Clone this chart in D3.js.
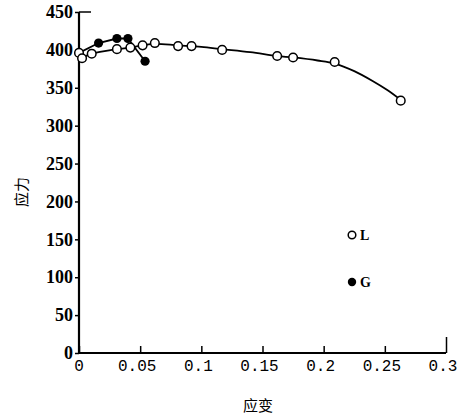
<!DOCTYPE html>
<html>
<head>
<meta charset="utf-8">
<script src="https://cdn.jsdelivr.net/npm/d3@7"></script>
<style>
  body { margin: 0; background: #fff; }
  svg { display: block; }
</style>
</head>
<body>
<svg id="chart"></svg>
<script>
// strain values and stress values
var strainL = [0.0, 0.0025, 0.0104, 0.031, 0.042, 0.052, 0.062, 0.081, 0.092, 0.117, 0.162, 0.175, 0.209, 0.263];
var stressL = [396, 389, 395, 401, 403, 406, 409, 405, 405, 400, 392, 390, 384, 333];
var strainG = [0.0, 0.016, 0.031, 0.040, 0.054];
var stressG = [396, 409, 415, 415, 385];
// drawn curve through the L points
var curveStrainL = [0.0025, 0.0104, 0.031, 0.042, 0.052, 0.062, 0.081, 0.100, 0.117, 0.140, 0.162, 0.175, 0.195, 0.209, 0.225, 0.240, 0.252, 0.263];
var curveStressL = [389, 395, 401, 403, 406, 408, 406, 404, 401, 397, 392, 390, 386, 382, 372, 359, 347, 334];
var xTicks = [0, 0.05, 0.1, 0.15, 0.2, 0.25, 0.3];
var xTickLabels = ["0", "0.05", "0.1", "0.15", "0.2", "0.25", "0.3"];
var yTicks = [0, 50, 100, 150, 200, 250, 300, 350, 400, 450];
var legendNames = ["L", "G"];

var width = 468, height = 417;
var margin = {top: 12, right: 22, bottom: 64, left: 79};

var svg = d3.select("svg#chart")
            .attr("width", width)
            .attr("height", height);

var x = d3.scaleLinear().domain([0, 0.3]).range([margin.left, width - margin.right]);
var y = d3.scaleLinear().domain([0, 450]).range([height - margin.bottom, margin.top]);

var serif = "'Liberation Serif', 'DejaVu Serif', serif";

// x axis, ticks point up into the plot
var xAxis = svg.append("g")
   .attr("transform", "translate(0," + y(0) + ")")
   .call(d3.axisTop(x).tickValues(xTicks).tickSize(7).tickFormat(""));
xAxis.select(".domain").remove();
xAxis.selectAll(".tick line").attr("stroke", "#000").attr("stroke-width", 1.5);
xAxis.selectAll(".tick").filter(function(d) { return d === 0.3; })
   .select("line").attr("y2", -16);

svg.append("line")
   .attr("x1", x(0)).attr("x2", x(0.3))
   .attr("y1", y(0)).attr("y2", y(0))
   .attr("stroke", "#000").attr("stroke-width", 2.2);

svg.selectAll(".xlab")
   .data(xTicks)
   .enter().append("text")
   .attr("class", "xlab")
   .attr("x", function(d) { return x(d) - (d === 0 ? 0 : 3); })
   .attr("y", y(0) + 18)
   .attr("text-anchor", "middle")
   .attr("font-family", "'Liberation Mono', monospace")
   .attr("font-size", 16)
   .text(function(d, i) { return xTickLabels[i]; });

// y axis, ticks to the left
var yAxis = svg.append("g")
   .attr("transform", "translate(" + x(0) + ",0)")
   .call(d3.axisLeft(y).tickValues(yTicks).tickSize(4).tickPadding(2));
yAxis.select(".domain").remove();
yAxis.selectAll(".tick line").attr("stroke", "#000").attr("stroke-width", 1.5);
yAxis.selectAll(".tick text")
   .attr("font-family", serif)
   .attr("font-weight", "bold")
   .attr("font-size", 18)
   .attr("fill", "#000");

svg.append("line")
   .attr("x1", x(0)).attr("x2", x(0))
   .attr("y1", y(450)).attr("y2", y(0))
   .attr("stroke", "#000").attr("stroke-width", 2.2);
svg.append("line")
   .attr("x1", x(0)).attr("x2", x(0) + 12)
   .attr("y1", y(450)).attr("y2", y(450))
   .attr("stroke", "#000").attr("stroke-width", 1.5);

// axis titles
svg.append("text")
   .attr("transform", "translate(27," + 192 + ") rotate(-90)")
   .attr("text-anchor", "middle")
   .attr("font-family", "'Noto Sans CJK SC', sans-serif")
   .attr("font-size", 15)
   .text("应力");

svg.append("text")
   .attr("x", 258)
   .attr("y", 411)
   .attr("text-anchor", "middle")
   .attr("font-family", "'Noto Sans CJK SC', sans-serif")
   .attr("font-size", 15)
   .text("应变");

// series
var dataL = strainL.map(function(d, i) { return {x: d, y: stressL[i]}; });
var dataG = strainG.map(function(d, i) { return {x: d, y: stressG[i]}; });
var curveL = curveStrainL.map(function(d, i) { return {x: d, y: curveStressL[i]}; });

var lineSmooth = d3.line()
   .x(function(d) { return x(d.x); })
   .y(function(d) { return y(d.y); })
   .curve(d3.curveCatmullRom.alpha(0.5));
var lineStraight = d3.line()
   .x(function(d) { return x(d.x); })
   .y(function(d) { return y(d.y); });

svg.append("path")
   .attr("class", "line")
   .attr("d", lineSmooth(curveL))
   .attr("fill", "none")
   .attr("stroke", "#000")
   .attr("stroke-width", 1.8);

svg.append("path")
   .attr("class", "line")
   .attr("d", lineStraight(dataG))
   .attr("fill", "none")
   .attr("stroke", "#000")
   .attr("stroke-width", 1.8);

svg.selectAll(".ptL")
   .data(dataL)
   .enter().append("circle")
   .attr("class", "ptL")
   .attr("cx", function(d) { return x(d.x); })
   .attr("cy", function(d) { return y(d.y); })
   .attr("r", 4.3)
   .attr("fill", "#fff")
   .attr("stroke", "#000")
   .attr("stroke-width", 1.5);

svg.selectAll(".ptG")
   .data(dataG.slice(1))
   .enter().append("circle")
   .attr("class", "ptG")
   .attr("cx", function(d) { return x(d.x); })
   .attr("cy", function(d) { return y(d.y); })
   .attr("r", 4.6)
   .attr("fill", "#000");

// legend
var legend = svg.selectAll(".legend")
   .data(legendNames)
   .enter().append("g")
   .attr("class", "legend")
   .attr("transform", function(d, i) { return "translate(352," + (235 + i * 47) + ")"; });

legend.append("circle")
   .attr("r", function(d, i) { return i === 0 ? 3.8 : 4.2; })
   .attr("fill", function(d, i) { return i === 0 ? "#fff" : "#000"; })
   .attr("stroke", "#000")
   .attr("stroke-width", function(d, i) { return i === 0 ? 1.5 : 0; });

legend.append("text")
   .attr("x", 8)
   .attr("y", 5)
   .attr("font-family", serif)
   .attr("font-weight", "bold")
   .attr("font-size", 14)
   .text(function(d) { return d; });
</script>
</body>
</html>
